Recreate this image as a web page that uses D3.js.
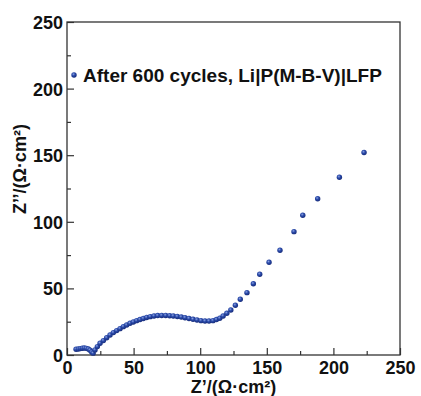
<!DOCTYPE html>
<html>
<head>
<meta charset="utf-8">
<script src="https://d3js.org/d3.v7.min.js"></script>
<style>
  body { margin: 0; background: #fff; }
  svg { display: block; font-family: "Liberation Sans", Arial, sans-serif; }
  .tick text { font-weight: bold; font-size: 18px; fill: #111; }
</style>
</head>
<body>
<svg id="chart" width="421" height="396"></svg>
<script>
var zRe = [6.8, 8.5, 10, 11.5, 13, 14.5, 16, 17.3, 18.5, 19.6,
           21, 22.8, 24.8, 27.3, 29.8, 32.3, 34.8, 37.3, 39.8, 42.3, 44.8, 47.3, 49.8, 52.3,
           54.8, 57.3, 59.8, 62.5, 65.3, 68.1, 71.1, 74.1, 77.1, 79.8, 82.8, 85.8, 88.6,
           91.6, 94.6, 97.6, 100.6, 103.6, 106.6, 109.6, 112.2, 114.7, 117.2, 120, 123,
           126.4, 130.1, 135.1, 139.9, 144.7, 151.7, 159.9, 170.4, 177, 188.2, 204.5, 223];
var zIm = [4.3, 4.5, 4.8, 5.1, 5.2, 5, 4.5, 3.6, 2.2, 1.4,
           3.8, 6.3, 8.8, 10.8, 13, 15, 16.8, 18.3, 19.8, 21.3, 22.5, 23.8, 24.8, 25.8,
           26.6, 27.4, 28.2, 28.8, 29.3, 29.6, 29.7, 29.7, 29.5, 29.3, 28.9, 28.5, 28,
           27.4, 26.8, 26.3, 25.8, 25.5, 25.5, 25.8, 26.6, 27.6, 29.3, 31.3, 33.8,
           37.3, 41.8, 46.8, 53.5, 60.6, 69.6, 78.6, 92.6, 104.9, 117.3, 133.4, 152];
var xTicks = [0, 50, 100, 150, 200, 250];
var yTicks = [0, 50, 100, 150, 200, 250];
var minorTicks = [25, 75, 125, 175, 225];
var legendLabel = "After 600 cycles, Li|P(M-B-V)|LFP";
var xTitle = "Z\u2019/(\u03a9\u00b7cm\u00b2)";
var yTitle = "Z\u2019\u2019/(\u03a9\u00b7cm\u00b2)";

var margin = {top: 22, right: 21, bottom: 41, left: 67};
var width = 421 - margin.left - margin.right;
var height = 396 - margin.top - margin.bottom;

var svg = d3.select('#chart');

// little sphere look for the markers
var grad = svg.append('defs').append('radialGradient')
  .attr('id', 'ball').attr('cx', '40%').attr('cy', '35%').attr('r', '65%');
grad.append('stop').attr('offset', '0%').attr('stop-color', '#8aa0e0');
grad.append('stop').attr('offset', '45%').attr('stop-color', '#2a4aaa');
grad.append('stop').attr('offset', '100%').attr('stop-color', '#172c7a');

var g = svg.append('g').attr('transform', 'translate(' + margin.left + ',' + margin.top + ')');

var x = d3.scaleLinear().domain([0, 250]).range([0, width]);
var y = d3.scaleLinear().domain([0, 250]).range([height, 0]);

// minor ticks first (inward, no labels)
g.append('g').attr('transform', 'translate(0,' + height + ')')
  .call(d3.axisBottom(x).tickValues(minorTicks).tickSize(-4).tickFormat(''))
  .call(a => a.select('.domain').remove());
g.append('g')
  .call(d3.axisLeft(y).tickValues(minorTicks).tickSize(-4).tickFormat(''))
  .call(a => a.select('.domain').remove());

var xAxis = g.append('g').attr('transform', 'translate(0,' + height + ')')
  .call(d3.axisBottom(x).tickValues(xTicks).tickSize(-7).tickPadding(6).tickFormat(d3.format('d')));
var yAxis = g.append('g')
  .call(d3.axisLeft(y).tickValues(yTicks).tickSize(-7).tickPadding(4).tickFormat(d3.format('d')));
xAxis.select('.domain').remove();
yAxis.select('.domain').remove();
g.selectAll('.tick line').attr('stroke', '#333').attr('stroke-width', 1.2);
yAxis.selectAll('.tick text').attr('dy', '0.36em');

// frame
g.append('rect').attr('width', width).attr('height', height)
  .attr('fill', 'none').attr('stroke', '#333').attr('stroke-width', 1.3);

var pts = zRe.map(function(d, i) { return [d, zIm[i]]; });
g.selectAll('circle.pt').data(pts).enter().append('circle')
  .attr('class', 'pt')
  .attr('cx', d => x(d[0]))
  .attr('cy', d => y(d[1]))
  .attr('r', 2.7)
  .attr('fill', 'url(#ball)');

// legend
g.append('circle').attr('cx', 7).attr('cy', 53).attr('r', 2.7).attr('fill', 'url(#ball)');
g.append('text').attr('x', 16).attr('y', 59.5)
  .attr('font-size', 19).attr('font-weight', 'bold').attr('fill', '#111')
  .text(legendLabel);

// axis titles
svg.append('text')
  .attr('x', margin.left + width / 2).attr('y', 393)
  .attr('text-anchor', 'middle').attr('font-size', 18).attr('font-weight', 'bold').attr('fill', '#111')
  .text(xTitle);

svg.append('text')
  .attr('transform', 'translate(26,169) rotate(-90)')
  .attr('text-anchor', 'middle').attr('font-size', 18).attr('font-weight', 'bold').attr('fill', '#111')
  .text(yTitle);
</script>
</body>
</html>
